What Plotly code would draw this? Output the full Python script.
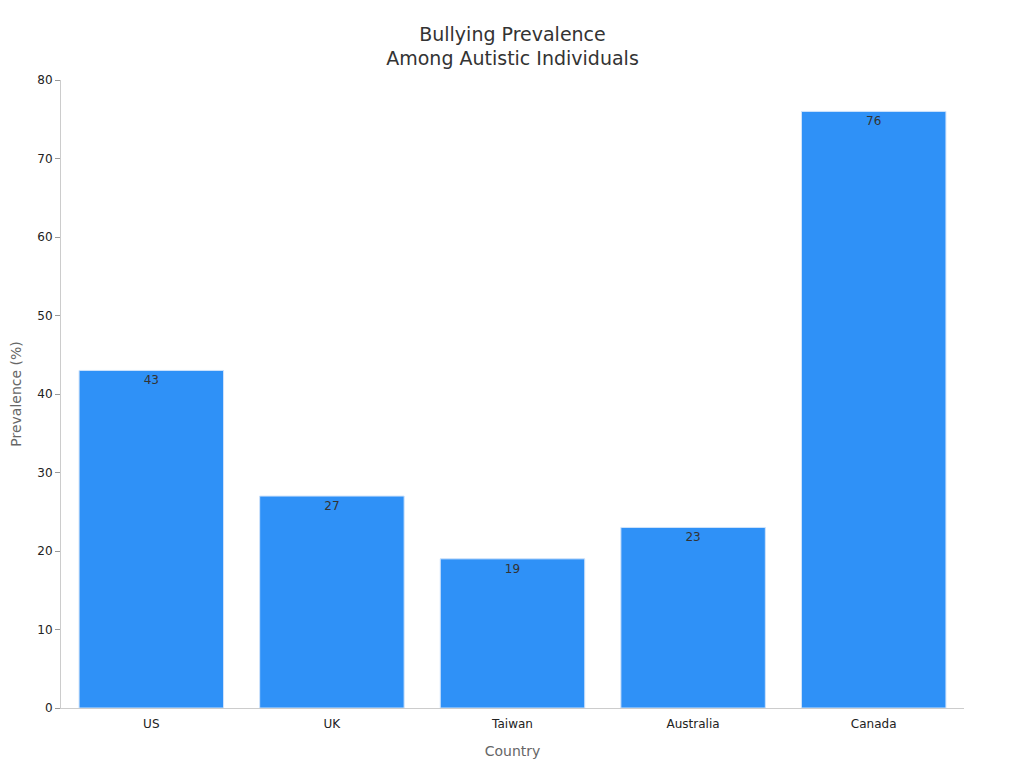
import plotly.graph_objects as go

countries = ["US", "UK", "Taiwan", "Australia", "Canada"]
prevalence = [43, 27, 19, 23, 76]

fig = go.Figure(go.Bar(
    x=countries, y=prevalence, text=prevalence, textposition="inside",
    insidetextanchor="end", width=0.8,
    textfont=dict(color="#333333", size=12, family="DejaVu Sans"),
    marker=dict(color="#2f91f7", line=dict(color="#cfe3fb", width=1)),
))
fig.update_layout(
    width=1024, height=768, plot_bgcolor="white", paper_bgcolor="white",
    margin=dict(l=53, r=68, t=72, b=68, autoexpand=False),
    font=dict(family="DejaVu Sans", color="#222222"),
    title=dict(text="Bullying Prevalence<br>Among Autistic Individuals", x=0.5, xref="paper",
               y=0.99, yref="container", xanchor="center", yanchor="top",
               pad=dict(t=25), font=dict(size=19, color="#333333")),
    showlegend=False,
)
fig.update_xaxes(title=dict(text="Country", font=dict(size=14, color="#666666"), standoff=15),
                 showline=True, linecolor="#cccccc", tickfont=dict(size=12), ticks="",
                 ticklabelstandoff=5, automargin=False)
fig.update_yaxes(title=dict(text="Prevalence (%)", font=dict(size=14, color="#666666"), standoff=22),
                 range=[0, 80], dtick=10, showgrid=False, showline=True, linecolor="#cccccc",
                 ticks="outside", ticklen=5, tickcolor="#999999", tickfont=dict(size=12),
                 zeroline=False, automargin=False)
fig.write_html("out.html")
